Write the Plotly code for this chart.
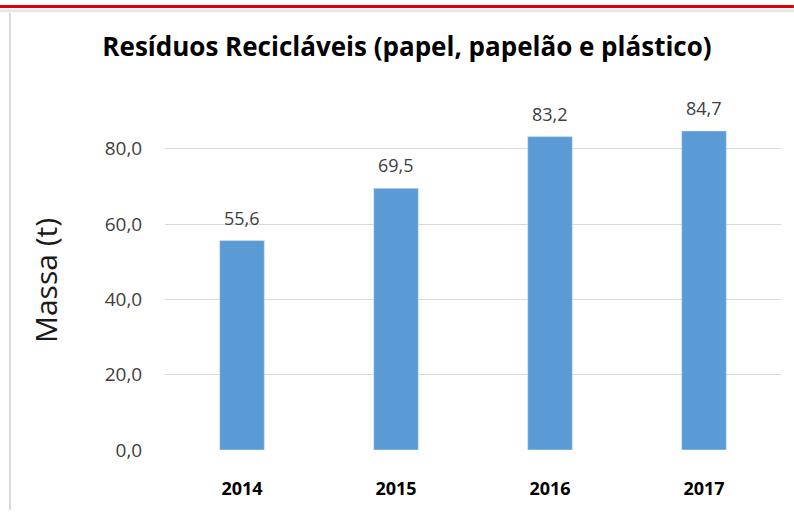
import plotly.graph_objects as go

# data
anos = ['2014', '2015', '2016', '2017']
massa = [55.6, 69.5, 83.2, 84.7]
rotulos = ['55,6', '69,5', '83,2', '84,7']
y_ticks = [0, 20, 40, 60, 80]
y_tick_text = ['0,0', '20,0', '40,0', '60,0', '80,0']

fig = go.Figure()
fig.add_trace(go.Bar(
    x=anos,
    y=massa,
    marker=dict(color='#5b9bd5'),
    width=0.29
))

# value labels above the bars (x given as category index)
for i, (valor, rotulo) in enumerate(zip(massa, rotulos)):
    fig.add_annotation(
        x=i, y=valor, text=rotulo, showarrow=False,
        yanchor='bottom', yshift=9,
        font=dict(size=18, color='#404040')
    )

fig.update_layout(
    width=794,
    height=512,
    paper_bgcolor='white',
    plot_bgcolor='white',
    margin=dict(l=165, r=13, t=111, b=60),
    font=dict(family='Open Sans', color='#404040'),
    title=dict(
        text='<b>Resíduos Recicláveis (papel, papelão e plástico)</b>',
        x=0.5126, xanchor='center', y=0.908, yanchor='middle',
        font=dict(size=26, color='#000000')
    ),
    showlegend=False,
    shapes=[
        dict(type='line', xref='paper', yref='paper', x0=-0.268, x1=1.021, y0=1.296, y1=1.296,
             line=dict(color='#e6e6e6', width=3)),
        dict(type='line', xref='paper', yref='paper', x0=-0.268, x1=1.021, y0=1.308, y1=1.308,
             line=dict(color='#e00000', width=3)),
        dict(type='line', xref='paper', yref='paper', x0=-0.2516, x1=-0.2516, y0=-0.176, y1=1.29,
             line=dict(color='#d9d9d9', width=2)),
    ]
)

fig.update_xaxes(
    type='category',
    range=[-0.5, len(anos) - 0.5],
    showgrid=False,
    showline=False,
    ticks='outside',
    ticklen=22,
    tickcolor='white',
    tickfont=dict(size=18, color='#000000', family='Open Sans'),
    tickprefix='<b>', ticksuffix='</b>'
)
fig.update_yaxes(
    range=[0, 90],
    tickvals=y_ticks,
    ticktext=y_tick_text,
    tickfont=dict(size=19, color='#404040'),
    gridcolor='#d9d9d9',
    zeroline=False,
    ticks='outside',
    ticklen=18,
    tickcolor='white',
    title=dict(text='Massa (t)', font=dict(size=30, color='#1a1a1a'), standoff=38)
)

fig.write_html("out.html", config={'displayModeBar': False},
               post_script="document.body.style.margin='0';")
